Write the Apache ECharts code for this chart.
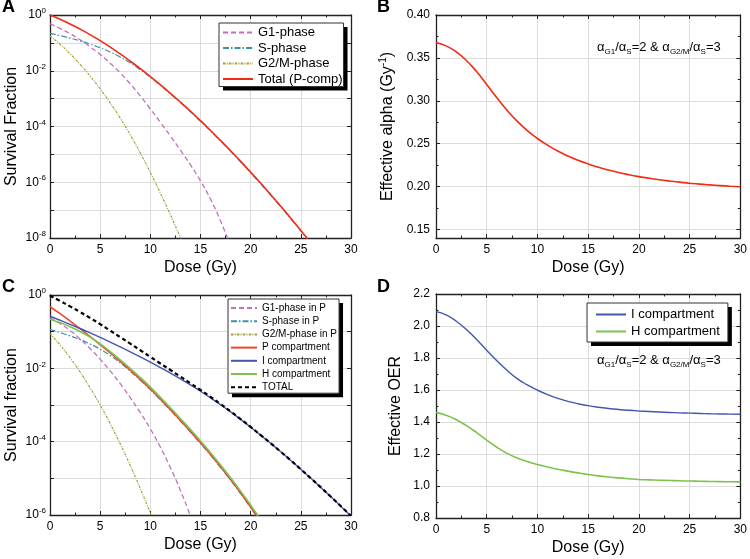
<!DOCTYPE html>
<html>
<head>
<meta charset="utf-8">
<script src="https://cdn.jsdelivr.net/npm/echarts@6/dist/echarts.min.js"></script>
<style>
  html, body { margin: 0; padding: 0; background: #fff; }
  #chart { width: 750px; height: 559px; }
</style>
</head>
<body>
<div id="chart"></div>
<script>
// dose grid in Gy, shared by every panel
const doses = [0, 1, 2, 3, 4, 5, 6, 7, 8, 9, 10, 11, 12, 13, 14, 15, 16, 17, 18, 19, 20,
  21, 22, 23, 24, 25, 26, 27, 28, 29, 30];

// Panel A - log10(survival fraction)
const logG1A = [-0.32, -0.48, -0.67, -0.89, -1.14, -1.42, -1.73, -2.08, -2.47, -2.9, -3.37,
  -3.85, -4.34, -4.85, -5.38, -5.95, -6.61, -7.39, -8.29];
const logSA = [-0.66, -0.74, -0.83, -0.93, -1.045, -1.175, -1.33, -1.51, -1.72, -1.96, -2.23,
  -2.523, -2.828, -3.145, -3.473, -3.812, -4.162, -4.522, -4.891, -5.27, -5.659, -6.057,
  -6.465, -6.883, -7.31, -7.747, -8.194];
const logG2MA = [-0.75, -1.05, -1.39, -1.77, -2.19, -2.65, -3.15, -3.7, -4.3, -4.95, -5.65,
  -6.39, -7.17, -7.99, -8.85];
const logTotalA = [0, -0.154, -0.323, -0.507, -0.706, -0.92, -1.15, -1.395, -1.655, -1.926,
  -2.209, -2.503, -2.808, -3.125, -3.453, -3.792, -4.142, -4.502, -4.871, -5.25, -5.639,
  -6.037, -6.445, -6.863, -7.29, -7.727, -8.174];

// Panel B - effective alpha (Gy^-1)
const alphaB = [0.368, 0.364, 0.357, 0.347, 0.334, 0.319, 0.3035, 0.289, 0.2762, 0.2652,
  0.256, 0.2482, 0.2414, 0.2356, 0.2306, 0.2263, 0.2225, 0.2192, 0.2163, 0.2138, 0.2116,
  0.2097, 0.208, 0.2065, 0.2051, 0.2039, 0.2028, 0.2019, 0.2011, 0.2004, 0.1997];

// Panel C - log10(survival fraction)
const logG1C = [-0.62, -0.78, -0.97, -1.2, -1.46, -1.75, -2.07, -2.42, -2.8, -3.21, -3.65,
  -4.15, -4.71, -5.33, -6.03, -6.8];
const logSC = [-0.94, -1.025, -1.115, -1.215, -1.335, -1.48, -1.65, -1.85, -2.08, -2.325,
  -2.58, -2.86, -3.145, -3.44, -3.74, -4.05, -4.37, -4.705, -5.055, -5.42, -5.8, -6.195];
const logG2MC = [-1.05, -1.36, -1.71, -2.1, -2.53, -3.0, -3.51, -4.06, -4.65, -5.28, -5.95,
  -6.67];
const logPC = [-0.32, -0.51, -0.71, -0.92, -1.135, -1.355, -1.58, -1.81, -2.05, -2.3, -2.565,
  -2.84, -3.125, -3.42, -3.72, -4.03, -4.35, -4.685, -5.035, -5.4, -5.78, -6.175];
const logIC = [-0.58, -0.688, -0.799, -0.914, -1.033, -1.156, -1.283, -1.414, -1.549, -1.688,
  -1.831, -1.978, -2.13, -2.288, -2.453, -2.625, -2.805, -2.993, -3.189, -3.393, -3.605,
  -3.823, -4.047, -4.277, -4.513, -4.755, -5.0, -5.25, -5.505, -5.765, -6.03];
const logHC = [-0.66, -0.755, -0.865, -0.995, -1.15, -1.335, -1.545, -1.77, -2.005, -2.25,
  -2.51, -2.79, -3.075, -3.37, -3.67, -3.98, -4.3, -4.635, -4.985, -5.35, -5.73, -6.125];
const logTotalC = [-0.018, -0.161, -0.31, -0.464, -0.626, -0.795, -0.971, -1.149, -1.327,
  -1.507, -1.687, -1.867, -2.046, -2.225, -2.406, -2.59, -2.779, -2.975, -3.176, -3.384,
  -3.599, -3.821, -4.045, -4.275, -4.511, -4.753, -4.998, -5.248, -5.503, -5.763, -6.028];

// Panel D - effective OER
const oerID = [2.09, 2.07, 2.03, 1.978, 1.916, 1.849, 1.783, 1.723, 1.671, 1.632, 1.599,
  1.571, 1.548, 1.529, 1.514, 1.502, 1.4925, 1.4848, 1.4785, 1.4733, 1.469, 1.4655, 1.4624,
  1.4597, 1.4573, 1.4552, 1.4534, 1.4518, 1.4504, 1.4492, 1.4482];
const oerHD = [1.46, 1.442, 1.414, 1.377, 1.334, 1.287, 1.242, 1.204, 1.175, 1.153, 1.135,
  1.119, 1.105, 1.093, 1.082, 1.072, 1.0635, 1.0565, 1.0505, 1.0455, 1.041, 1.0385, 1.0363,
  1.0343, 1.0325, 1.0309, 1.0295, 1.0283, 1.0273, 1.0264, 1.0256];

const FONT = '"Liberation Sans", Arial, Helvetica, sans-serif';
const INK = '#222';
const GRID = '#dcdcdc';

const logPairs = (logs) => logs.map((v, i) => [doses[i], Math.pow(10, v)]);
const linPairs = (vals) => vals.map((v, i) => [doses[i], v]);

const chart = echarts.init(document.getElementById('chart'));

const tickStyle = { inside: true, length: 4, lineStyle: { color: INK, width: 1 } };
const minorStyle = { show: true, length: 2.5, lineStyle: { color: INK, width: 1 } };
const frame = { show: true, onZero: false, lineStyle: { color: INK, width: 1.3 } };

function xAxes(gridIndex) {
  const base = {
    type: 'value', gridIndex, min: 0, max: 30, interval: 5,
    axisLine: frame, axisTick: tickStyle,
    minorTick: { ...minorStyle, splitNumber: 2 }
  };
  return [
    {
      ...base, position: 'bottom',
      name: 'Dose (Gy)', nameLocation: 'middle', nameGap: 22,
      nameTextStyle: { fontSize: 16, fontFamily: FONT, color: '#000' },
      axisLabel: { fontSize: 12, fontFamily: FONT, color: '#000', margin: 6 },
      splitLine: { show: true, lineStyle: { color: GRID, width: 1 } }
    },
    { ...base, position: 'top', axisLabel: { show: false }, splitLine: { show: false } }
  ];
}

const powLabel = {
  fontSize: 12, fontFamily: FONT, color: '#000', margin: 4,
  formatter: (v) => {
    const e = Math.round(Math.log10(v));
    if (e % 2 !== 0) return '';
    return '{b|10}{e|' + e + '}';
  },
  rich: {
    b: { fontSize: 12, fontFamily: FONT, lineHeight: 16, color: '#000' },
    e: { fontSize: 8, fontFamily: FONT, lineHeight: 8, verticalAlign: 'top', color: '#000' }
  }
};

function logYAxes(gridIndex, minExp, name) {
  const base = {
    type: 'log', logBase: 10, gridIndex,
    min: Math.pow(10, minExp), max: 1, splitNumber: -minExp,
    axisLine: frame, axisTick: tickStyle
  };
  return [
    {
      ...base, position: 'left',
      name, nameLocation: 'middle', nameGap: 30,
      nameTextStyle: { fontSize: 16, fontFamily: FONT, color: '#000' },
      axisLabel: powLabel,
      splitLine: { show: true, lineStyle: { color: GRID, width: 1 } }
    },
    { ...base, position: 'right', axisLabel: { show: false }, splitLine: { show: false } }
  ];
}

function linYAxes(gridIndex, opts) {
  const base = {
    type: 'value', gridIndex, min: opts.min, max: opts.max,
    axisLine: frame, axisTick: { ...tickStyle, customValues: opts.ticks },
    minorTick: { ...minorStyle, splitNumber: 2 }
  };
  if (opts.interval) base.interval = opts.interval;
  else base.splitNumber = opts.splitNumber;
  return [
    {
      ...base, position: 'left',
      name: opts.name, nameLocation: 'middle', nameGap: opts.nameGap,
      nameTextStyle: {
        fontSize: 16, fontFamily: FONT, color: '#000',
        rich: {
          n: { fontSize: 16, fontFamily: FONT, lineHeight: 20, color: '#000' },
          p: { fontSize: 10, fontFamily: FONT, lineHeight: 10, verticalAlign: 'top', color: '#000' }
        }
      },
      axisLabel: {
        fontSize: 12, fontFamily: FONT, color: '#000', margin: 6,
        customValues: opts.ticks,
        formatter: (v) => v.toFixed(opts.digits)
      },
      splitLine: { show: true, lineStyle: { color: GRID, width: 1 } }
    },
    { ...base, position: 'right', axisLabel: { show: false }, splitLine: { show: false } }
  ];
}

function line(name, data, g, color, width, type) {
  return {
    name, type: 'line', data, xAxisIndex: 2 * g, yAxisIndex: 2 * g,
    symbol: 'none', smooth: true, clip: true,
    lineStyle: { color, width, type: type || 'solid' },
    itemStyle: { color },
    emphasis: { disabled: true }
  };
}

const PINK = '#c46fbf';
const TEAL = '#3d8fa8';
const OLIVE = '#a3a037';
const RED = '#f42a14';
const RED_P = '#f2452c';
const BLUE = '#4455b0';
const GREEN = '#7cc24e';

const dashG1 = [5, 3];
const dashS = [6, 2, 1.5, 2];
const dashG2M = [2.5, 1.2, 1, 1.2];

const ratioText = '{m|α}{s|G1}{m|/α}{s|S}{m|=2 & α}{s|G2/M}{m|/α}{s|S}{m|=3}';
const ratioRich = {
  m: { fontSize: 13, fontFamily: FONT, fontWeight: 'normal', lineHeight: 18, color: '#000' },
  s: { fontSize: 8, fontFamily: FONT, fontWeight: 'normal', lineHeight: 8,
    verticalAlign: 'bottom', color: '#000' }
};
const letterStyle = { fontSize: 18, fontWeight: 'bold', fontFamily: FONT, color: '#000' };

// each legend box is drawn twice: a hidden copy that only casts the hard black
// shadow, and the visible bordered one on top of it
const legendBase = {
  orient: 'vertical', selectedMode: false,
  backgroundColor: '#fff', borderRadius: 0,
  itemWidth: 30, itemHeight: 14, itemGap: 2,
  itemStyle: { opacity: 0 }
};
function legendPair(opts) {
  const shadow = {
    ...legendBase, ...opts, z: 3, borderWidth: 0,
    shadowColor: '#000', shadowBlur: 0, shadowOffsetX: 4, shadowOffsetY: 4,
    textStyle: { ...opts.textStyle, color: 'rgba(0,0,0,0)' },
    lineStyle: { opacity: 0 }
  };
  const main = { ...legendBase, ...opts, z: 4, borderColor: '#333', borderWidth: 1 };
  return [shadow, main];
}

chart.setOption({
  animation: false,
  backgroundColor: '#fff',
  title: [
    { text: 'A', left: 2, top: -2, padding: 0, textStyle: letterStyle },
    { text: 'B', left: 377, top: -2, padding: 0, textStyle: letterStyle },
    { text: 'C', left: 2, top: 278, padding: 0, textStyle: letterStyle },
    { text: 'D', left: 377, top: 278, padding: 0, textStyle: letterStyle },
    { text: ratioText, left: 597, top: 38, padding: 0,
      textStyle: { fontWeight: 'normal', rich: ratioRich } },
    { text: ratioText, left: 597, top: 351, padding: 0,
      textStyle: { fontWeight: 'normal', rich: ratioRich } }
  ],
  grid: [
    { left: 50, top: 15, width: 301, height: 223 },
    { left: 436, top: 15, width: 306, height: 223 },
    { left: 50, top: 295, width: 301, height: 220 },
    { left: 436, top: 294, width: 306, height: 224 }
  ],
  xAxis: [...xAxes(0), ...xAxes(1), ...xAxes(2), ...xAxes(3)],
  yAxis: [
    ...logYAxes(0, -8, 'Survival Fraction'),
    ...linYAxes(1, {
      min: 0.14, max: 0.40, splitNumber: 6, digits: 2, nameGap: 38,
      ticks: [0.15, 0.2, 0.25, 0.3, 0.35, 0.4],
      name: '{n|Effective alpha (Gy}{p|-1}{n|)}'
    }),
    ...logYAxes(2, -6, 'Survival fraction'),
    ...linYAxes(3, {
      min: 0.8, max: 2.2, interval: 0.2, digits: 1, nameGap: 30,
      ticks: [0.8, 1.0, 1.2, 1.4, 1.6, 1.8, 2.0, 2.2],
      name: '{n|Effective OER}'
    })
  ],
  legend: [
    ...legendPair({
      left: 219, top: 23, padding: [3, 1, 1, 3], itemGap: 2.5,
      textStyle: { fontSize: 13, fontFamily: FONT, color: '#000' },
      data: ['G1-phase', 'S-phase', 'G2/M-phase', 'Total (P-comp)']
    }),
    ...legendPair({
      left: 228, top: 299, padding: [4, 2, 1, 2],
      itemWidth: 26, itemHeight: 12, itemGap: 3.2,
      textStyle: { fontSize: 10, fontFamily: FONT, color: '#000' },
      data: ['G1-phase in P', 'S-phase in P', 'G2/M-phase in P', 'P compartment',
        'I compartment', 'H compartment', 'TOTAL']
    }),
    ...legendPair({
      left: 587, top: 303, padding: [5, 8, 4, 8], itemGap: 4,
      textStyle: { fontSize: 13, fontFamily: FONT, color: '#000' },
      data: ['I compartment', 'H compartment']
    })
  ],
  series: [
    line('G1-phase', logPairs(logG1A), 0, PINK, 1.3, dashG1),
    line('S-phase', logPairs(logSA), 0, TEAL, 1.2, dashS),
    line('G2/M-phase', logPairs(logG2MA), 0, OLIVE, 1.2, dashG2M),
    line('Total (P-comp)', logPairs(logTotalA), 0, RED, 1.6),

    line('alpha', linPairs(alphaB), 1, RED, 1.6),

    line('G1-phase in P', logPairs(logG1C), 2, PINK, 1.3, dashG1),
    line('S-phase in P', logPairs(logSC), 2, TEAL, 1.2, dashS),
    line('G2/M-phase in P', logPairs(logG2MC), 2, OLIVE, 1.2, dashG2M),
    line('P compartment', logPairs(logPC), 2, RED_P, 1.6),
    line('I compartment', logPairs(logIC), 2, BLUE, 1.4),
    line('H compartment', logPairs(logHC), 2, GREEN, 1.6),
    line('TOTAL', logPairs(logTotalC), 2, '#000', 2.2, [4, 3]),

    line('I compartment', linPairs(oerID), 3, BLUE, 1.4),
    line('H compartment', linPairs(oerHD), 3, GREEN, 1.6)
  ]
});
</script>
</body>
</html>
